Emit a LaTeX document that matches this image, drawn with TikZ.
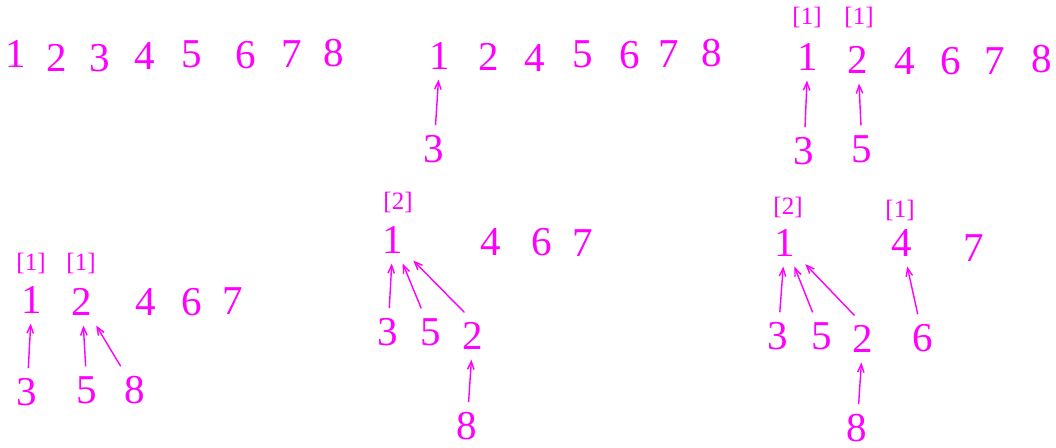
\documentclass[tikz,border=0pt]{standalone}
\usepackage{fontspec}
\setmainfont{Liberation Serif}
\usetikzlibrary{arrows.meta}
\definecolor{mag}{RGB}{255,0,255}
\tikzset{
  num/.style={font=\fontsize{41}{41}\selectfont, text=mag, inner sep=0pt, outer sep=10pt},
  lab/.style={font=\fontsize{25}{25}\selectfont, text=mag, inner sep=0pt},
  link/.style={draw=mag, line width=1.4pt, -{Straight Barb[length=8pt,width=6.5pt]}}
}
\begin{document}
\begin{tikzpicture}[x=1pt,y=-1pt]
\useasboundingbox (0,0) rectangle (1056,447);
% panel A
\node[num] (a1) at (16,54) {1};
\node[num] (a2) at (57,58) {2};
\node[num] (a3) at (100,58) {3};
\node[num] (a4) at (145,56) {4};
\node[num] (a5) at (192,54) {5};
\node[num] (a6) at (246,55) {6};
\node[num] (a7) at (292,54) {7};
\node[num] (a8) at (334,53) {8};
% panel B
\node[num] (b1) at (440,56) {1};
\node[num] (b2) at (489,57) {2};
\node[num] (b4) at (535,58) {4};
\node[num] (b5) at (583,54) {5};
\node[num] (b6) at (630,55) {6};
\node[num] (b7) at (669,54) {7};
\node[num] (b8) at (712,53) {8};
\node[num] (b3) at (434,149) {3};
\draw[link] (b3) -- (b1);
% panel C
\node[lab] (cl1) at (807,17) {[1]};
\node[lab] (cl2) at (859,17) {[1]};
\node[num] (c1) at (808,57) {1};
\node[num] (c2) at (858,60) {2};
\node[num] (c4) at (905,61) {4};
\node[num] (c6) at (951,61) {6};
\node[num] (c7) at (995,61) {7};
\node[num] (c8) at (1042,59) {8};
\node[num] (c3) at (804,151) {3};
\node[num] (c5) at (862,149) {5};
\draw[link] (c3) -- (c1);
\draw[link] (c5) -- (c2);
% panel D
\node[lab] (dl1) at (31,263) {[1]};
\node[lab] (dl2) at (81,263) {[1]};
\node[num] (d1) at (32,300) {1};
\node[num] (d2) at (82,302) {2};
\node[num] (d4) at (146,302) {4};
\node[num] (d6) at (192,302) {6};
\node[num] (d7) at (233,301) {7};
\node[num] (d3) at (27,392) {3};
\node[num] (d5) at (87,390) {5};
\node[num] (d8) at (135,390) {8};
\draw[link] (d3) -- (d1);
\draw[link] (d5) -- (d2);
\draw[link] (d8) -- (d2);
% panel E
\node[lab] (el1) at (398,202) {[2]};
\node[num] (e1) at (393,240) {1};
\node[num] (e4) at (491,242) {4};
\node[num] (e6) at (542,242) {6};
\node[num] (e7) at (583,243) {7};
\node[num] (e3) at (388,332) {3};
\node[num] (e5) at (431,332) {5};
\node[num] (e2) at (473,336) {2};
\node[num] (e8) at (467,426) {8};
\draw[link] (e3) -- (e1);
\draw[link] (e5) -- (e1);
\draw[link] (e2.110) -- (e1);
\draw[link] (e8) -- (e2);
% panel F
\node[lab] (fl1) at (788,207) {[2]};
\node[lab] (fl4) at (900,210) {[1]};
\node[num] (f1) at (785,243) {1};
\node[num] (f4) at (902,243) {4};
\node[num] (f7) at (974,248) {7};
\node[num] (f3) at (778,336) {3};
\node[num] (f5) at (822,336) {5};
\node[num] (f2) at (863,339) {2};
\node[num] (f6) at (923,338) {6};
\node[num] (f8) at (857,428) {8};
\draw[link] (f3) -- (f1);
\draw[link] (f5) -- (f1);
\draw[link] (f2.110) -- (f1);
\draw[link] (f6) -- (f4);
\draw[link] (f8) -- (f2);
\end{tikzpicture}
\end{document}
